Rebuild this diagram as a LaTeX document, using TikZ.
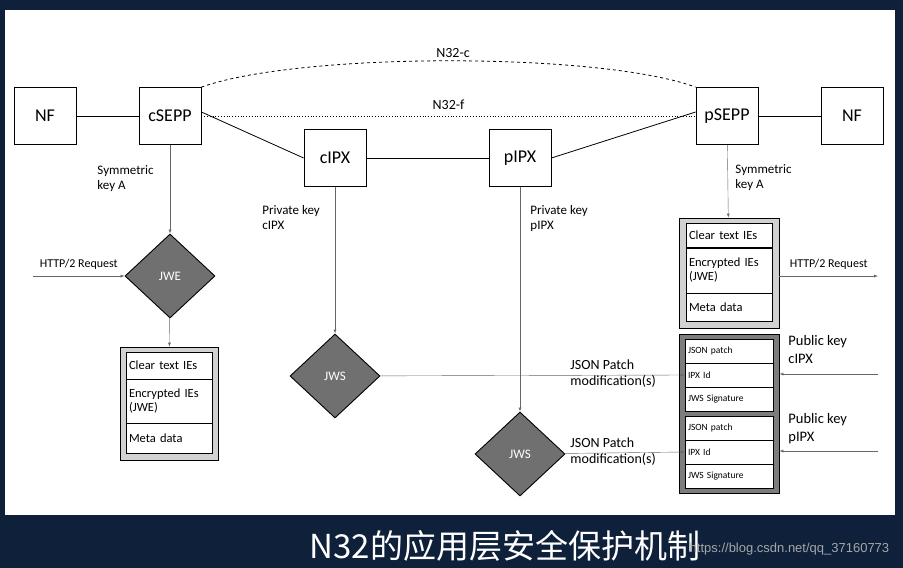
\documentclass[tikz,border=0pt]{standalone}
\usepackage{fontspec}
\setmainfont{Carlito}
\newfontfamily\cjk{Noto Sans CJK SC}
\newfontfamily\wm{Liberation Sans}
\usetikzlibrary{shapes.geometric}
\definecolor{slidebg}{RGB}{14,32,58}
\definecolor{jwsgray}{RGB}{112,112,112}
\definecolor{boxgray}{RGB}{210,210,210}
\definecolor{darkbox}{RGB}{125,125,125}
\tikzset{
  nf/.style={draw,thick,fill=white,minimum width=62pt,minimum height=57pt,font=\fontsize{18}{20}\selectfont},
  jw/.style={diamond,draw,fill=jwsgray,text=white,minimum width=90pt,minimum height=84pt,inner sep=0pt,font=\fontsize{13}{15}\selectfont},
  lbl/.style={align=left,font=\fontsize{13}{15}\selectfont,inner sep=0pt,anchor=north west},
  row/.style={draw,thick,fill=white,minimum width=86pt,text width=80pt,align=left,inner sep=3pt,font=\fontsize{12.5}{14}\selectfont},
  srow/.style={draw,thick,fill=white,minimum width=88pt,minimum height=24pt,text width=82pt,align=left,inner sep=3pt,font=\fontsize{9.5}{11}\selectfont},
  arr/.style={-latex,draw=gray!80!black,thin},
}
\begin{document}
\begin{tikzpicture}[x=1pt,y=-1pt,line width=0.9pt]
  \fill[slidebg] (0,0) rectangle (903,568);
  \fill[white] (5,10) rectangle (895,515);
  \useasboundingbox (0,0) rectangle (903,568);

  \node[nf] (nfl) at (45,116) {NF};
  \node[nf] (cs) at (170,116) {cSEPP};
  \node[nf] (ci) at (335,158) {cIPX};
  \node[nf] (pi) at (520,158) {pIPX};
  \node[nf] (ps) at (727,116) {pSEPP};
  \node[nf] (nfr) at (852,116) {NF};

  \draw[thick] (nfl) -- (cs);
  \draw[thick] ([yshift=4pt]cs.east) -- (ci.west);
  \draw[thick] (ci) -- (pi);
  \draw[thick] (pi.east) -- ([yshift=4pt]ps.west);
  \draw[thick] (ps) -- (nfr);
  \draw[dotted,thick] (cs.east) -- (ps.west) node[midway,above=3pt,font=\fontsize{14}{16}\selectfont] {N32-f};
  \draw[dashed,thick] (cs.north east) .. controls (300,52) and (600,52) .. (ps.north west);
  \node[font=\fontsize{14}{16}\selectfont] (n32c) at (453,53) {N32-c};

  % client side
  \node[lbl] (ska) at (97,165) {Symmetric\\key A};
  \node[jw] (jwe) at (170,276) {JWE};
  \draw[arr] (cs) -- (jwe);
  \coordinate (hin) at (33,276);
  \draw[arr] (hin) -- (jwe) node[midway,above=3pt,font=\fontsize{12}{14}\selectfont] {HTTP/2 Request};
  \node[draw,thick,fill=boxgray,minimum width=98pt,minimum height=113pt] (msgl) at (169,403.5) {};
  \node[row,minimum height=27pt] (l1) at (169,365.5) {Clear text IEs};
  \node[row,minimum height=44pt] (l2) at (169,401) {Encrypted IEs (JWE)};
  \node[row,minimum height=30pt] (l3) at (169,438) {Meta data};
  \draw[arr] (jwe) -- (msgl);

  % IPX side
  \node[lbl] (pkc) at (262,205) {Private key\\cIPX};
  \node[lbl] (pkp) at (530,205) {Private key\\pIPX};
  \node[jw] (jws1) at (335,376) {JWS};
  \node[jw] (jws2) at (520,454) {JWS};
  \draw[arr] (ci) -- (jws1);
  \draw[arr] (pi) -- (jws2);

  % producer side
  \node[lbl] (skb) at (735,164) {Symmetric\\key A};
  \node[draw,thick,fill=boxgray,minimum width=100pt,minimum height=110pt] (msgr) at (729,273) {};
  \node[row,minimum height=24pt] (r1) at (729,235) {Clear text IEs};
  \node[row,minimum height=45pt] (r2) at (729,270.5) {Encrypted IEs (JWE)};
  \node[row,minimum height=28pt] (r3) at (729,307) {Meta data};
  \draw[arr] (ps) -- (msgr);
  \coordinate (hout) at (878,276);
  \draw[arr] (msgr.east |- hout) -- (hout) node[midway,above=3pt,font=\fontsize{12}{14}\selectfont] {HTTP/2 Request};

  \node[draw,thick,fill=darkbox,minimum width=100pt,minimum height=159pt] (sig) at (729,413.5) {};
  \node[srow] (s1) at (729,351) {JSON patch};
  \node[srow] (s2) at (729,375) {IPX Id};
  \node[srow] (s3) at (729,399) {JWS Signature};
  \node[srow] (s4) at (729,428) {JSON patch};
  \node[srow] (s5) at (729,452) {IPX Id};
  \node[srow] (s6) at (729,476) {JWS Signature};

  \draw[arr] (jws1) -- (s2.west);
  \draw[arr] (jws2) -- (s5.west);
  \node[lbl,font=\fontsize{14}{16.5}\selectfont] (jp1) at (570,359) {JSON Patch\\modification(s)};
  \node[lbl,font=\fontsize{14}{16.5}\selectfont] (jp2) at (570,437) {JSON Patch\\modification(s)};

  \node[lbl,font=\fontsize{14.5}{18}\selectfont] (puc) at (788,335) {Public key\\cIPX};
  \node[lbl,font=\fontsize{14.5}{18}\selectfont] (pup) at (788,413) {Public key\\pIPX};
  \coordinate (pc) at (878,374);
  \coordinate (pp) at (878,451);
  \draw[arr] (pc) -- (sig.east |- pc);
  \draw[arr] (pp) -- (sig.east |- pp);

  % caption
  \node[text=white,font=\cjk\fontsize{33}{35}\selectfont] (cap) at (505,546) {N32的应用层安全保护机制};
  \node[anchor=east,text=gray!70,font=\wm\fontsize{13}{15}\selectfont] (wmk) at (893,549) {https://blog.csdn.net/qq\_37160773};
\end{tikzpicture}
\end{document}
